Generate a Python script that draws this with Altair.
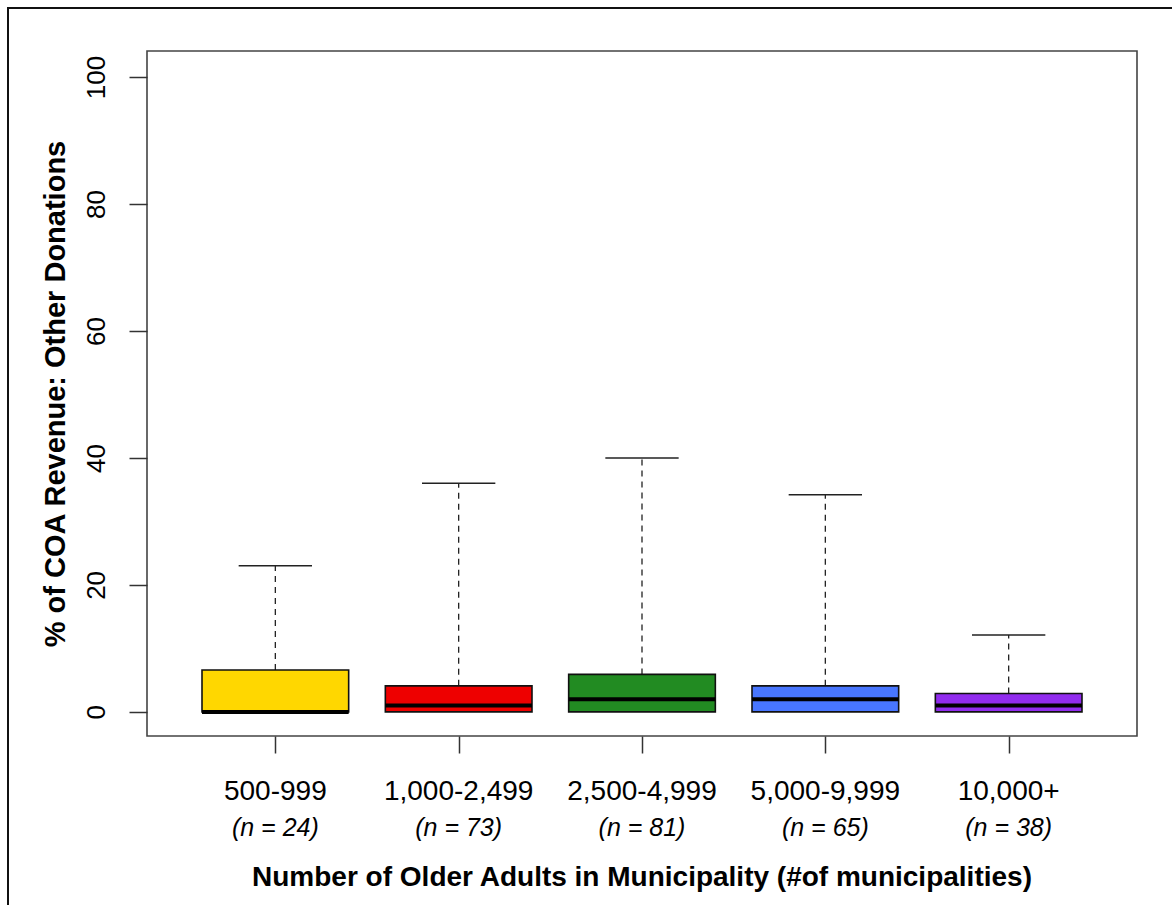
import altair as alt
import pandas as pd

# Share of COA revenue from other donations, by municipality size
groups = ["500-999", "1,000-2,499", "2,500-4,999", "5,000-9,999", "10,000+"]
n_counts = [24, 73, 81, 65, 38]
q1 = [0, 0, 0, 0, 0]
median = [0, 1, 2, 2, 1]
q3 = [6.6, 4.1, 5.9, 4.1, 2.9]
whisker_lo = [0, 0, 0, 0, 0]
whisker_hi = [23, 36, 40, 34.2, 12.1]
colors = ["#FFD700", "#EE0000", "#228B22", "#4876FF", "#912CEE"]

df = pd.DataFrame({
    "group": groups,
    "pos": list(range(1, len(groups) + 1)),
    "n_label": [f"(n = {n})" for n in n_counts],
    "q1": q1,
    "median": median,
    "q3": q3,
    "lo": whisker_lo,
    "hi": whisker_hi,
    "color": colors,
})

W, H = 990, 685
FONT = "Liberation Sans"

xs = alt.Scale(domain=[0.3, 5.7], nice=False, zero=False)
ys = alt.Scale(domain=[-3.8, 104.1], nice=False, zero=False)

base = alt.Chart(df).transform_calculate(
    box_l="datum.pos - 0.4", box_r="datum.pos + 0.4",
    cap_l="datum.pos - 0.2", cap_r="datum.pos + 0.2",
)

x_axis = alt.Axis(values=[1, 2, 3, 4, 5], labels=False, domain=False, grid=False,
                  tickSize=17, tickColor="#333", tickWidth=1.5, title=None)
y_axis = alt.Axis(values=[0, 20, 40, 60, 80, 100], domain=False, grid=False,
                  tickSize=18, tickColor="#333", tickWidth=1.5,
                  labelAngle=270, labelFont=FONT, labelFontSize=26, labelColor="#000",
                  labelPadding=20, labelBaseline="bottom", labelAlign="center",
                  title="% of COA Revenue: Other Donations", titleFont=FONT,
                  titleFontSize=29, titleFontWeight="bold", titleColor="#000",
                  titleAngle=270, titleX=-92, titleY=H / 2, titleBaseline="middle",
                  titleAlign="center")

whisker = base.mark_rule(color="#222", strokeWidth=1.3, strokeDash=[6, 5]).encode(
    x=alt.X("pos:Q", scale=xs, axis=x_axis),
    y=alt.Y("q3:Q", scale=ys, axis=y_axis),
    y2="hi:Q",
)

cap = base.mark_rule(color="#222", strokeWidth=1.5).encode(
    x=alt.X("cap_l:Q", scale=xs), x2="cap_r:Q",
    y=alt.Y("hi:Q", scale=ys),
)

box = base.mark_rect(stroke="#111", strokeWidth=1.6).encode(
    x=alt.X("box_l:Q", scale=xs), x2="box_r:Q",
    y=alt.Y("q1:Q", scale=ys), y2="q3:Q",
    fill=alt.Fill("color:N", scale=None),
)

med = base.mark_rule(color="#000", strokeWidth=4).encode(
    x=alt.X("box_l:Q", scale=xs), x2="box_r:Q",
    y=alt.Y("median:Q", scale=ys),
)

cat_labels = base.mark_text(font=FONT, fontSize=28, color="#000", baseline="middle").encode(
    x=alt.X("pos:Q", scale=xs), y=alt.value(741), text="group:N",
)

n_labels = base.mark_text(font=FONT, fontSize=25, fontStyle="italic", color="#000",
                          baseline="middle").encode(
    x=alt.X("pos:Q", scale=xs), y=alt.value(777), text="n_label:N",
)

x_title = alt.Chart(pd.DataFrame({"t": ["Number of Older Adults in Municipality (#of municipalities)"]})).mark_text(
    font=FONT, fontSize=28, fontWeight="bold", color="#000", baseline="middle"
).encode(x=alt.value(W / 2), y=alt.value(827), text="t:N")

# figure border around the whole panel
frame = alt.Chart(pd.DataFrame({"k": [0]})).mark_rect(
    fill=None, stroke="#111", strokeWidth=2
).encode(x=alt.value(-139), x2=alt.value(W + 60), y=alt.value(-43), y2=alt.value(H + 200))

chart = alt.layer(frame, whisker, cap, box, med, cat_labels, n_labels, x_title).properties(
    width=W, height=H,
    padding={"left": 147, "top": 51, "right": 35, "bottom": 169},
    autosize=alt.AutoSizeParams(type="none"),
    background="white",
).configure_view(stroke="#444", strokeWidth=1.6)

chart.save("out.html", embed_options={"renderer": "svg", "actions": False})
